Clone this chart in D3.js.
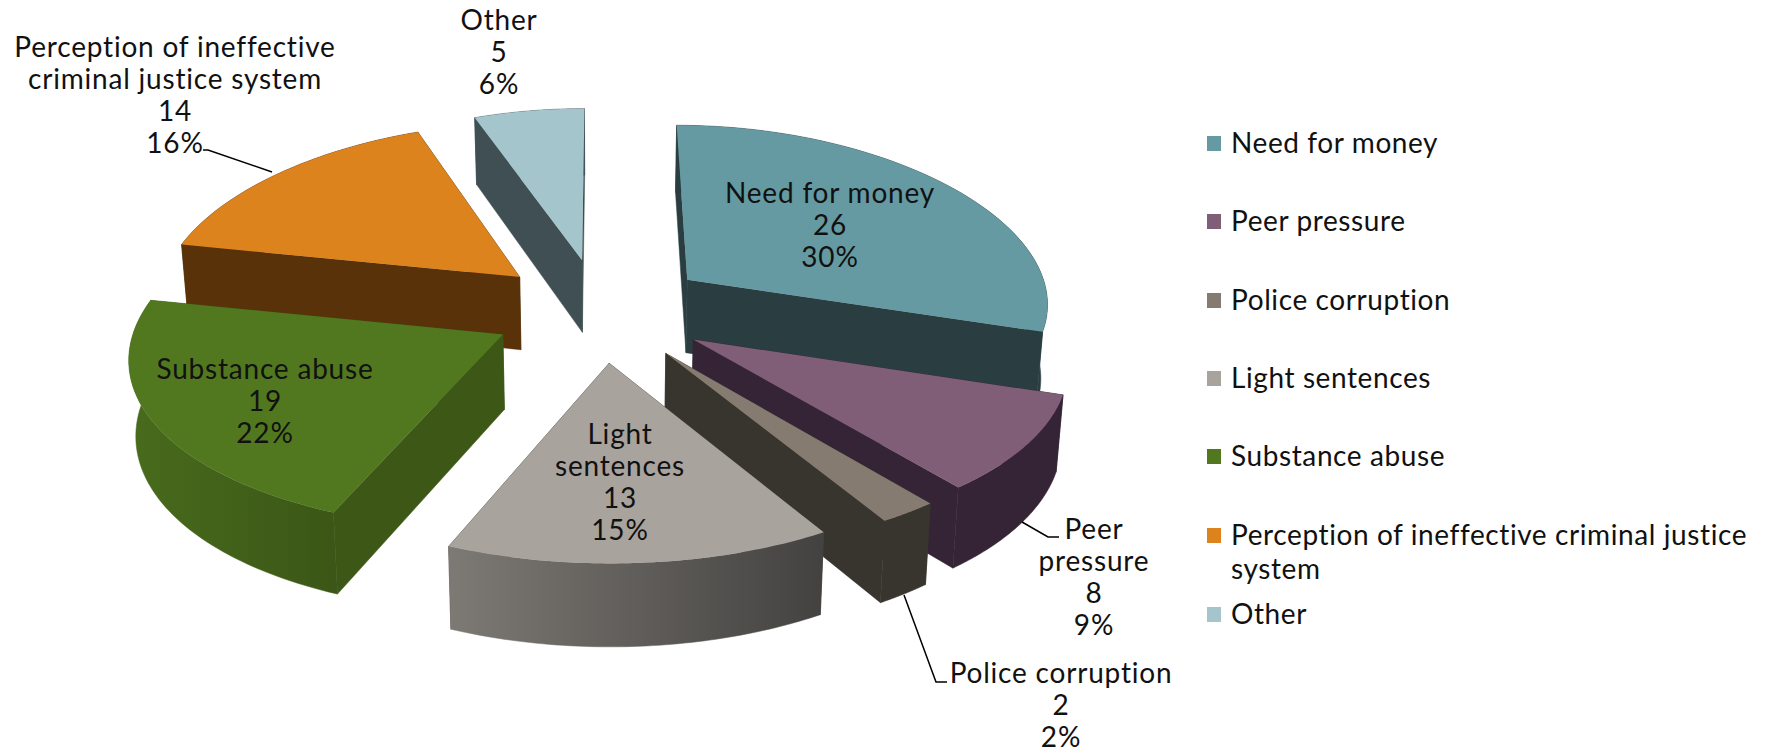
<!DOCTYPE html>
<html><head><meta charset="utf-8">
<script src="https://cdn.jsdelivr.net/npm/d3@7"></script>
<style>html,body{margin:0;padding:0;background:#fff}svg{display:block}text{font-family:Lato,"Open Sans",sans-serif;fill:#111;letter-spacing:0.8px}text.lg{letter-spacing:0.6px}</style>
</head><body><svg id="c" width="1766" height="754"></svg>
<script>
const categories=["Need for money","Peer pressure","Police corruption","Light sentences","Substance abuse","Perception of ineffective criminal justice system","Other"];
const values=[26,8,2,13,19,14,5];
const percents=["30%","9%","2%","15%","22%","16%","6%"];
const topColors=["#659aa2","#805e78","#857b70","#a9a39d","#52781f","#dc831e","#a3c5cb"];
const wallColors=["#2a3e42","#342435","#38342e","#45433f","#3c5716","#593209","#3f4f53"];
const outerFrom=["#2a3e42","#342435","#38342e","#7d7974","#486b1c","#593209","#3f4f53"];
const outerTo=["#2a3e42","#342435","#38342e","#434240","#3b5616","#593209","#3f4f53"];
const labelLines=[["Need for money"],["Peer","pressure"],["Police corruption"],["Light","sentences"],["Substance abuse"],["Perception of ineffective","criminal justice system"],["Other"]];
const labelX=[830,1094,1061,620,265,175,499];
const labelY=[193,529,673,434,369,47,20];
const legendLines=[["Need for money"],["Peer pressure"],["Police corruption"],["Light sentences"],["Substance abuse"],["Perception of ineffective criminal justice","system"],["Other"]];
const legendY=[143,221,300,378,456,535,614];
const leaders=[[[1022,522],[1048,537],[1059,537]],[[904,595],[936,682],[947,682]],[[272,172],[208,150],[203,150]]];

const CX=601,CY=310,RX=364,RY=173,KX=0.12,KY=0.087,H=74,EXPLODE=0.30,TAPER=0.015,FS=28,LH=32;
const svg=d3.select("#c");
const defs=svg.append("defs");
const project=(X,Y,Z)=>{const sx=1+KX*Y,sy=1/(1-KY*Y),t=1-TAPER*Z;return [CX+RX*X*sx*t,CY+RY*Y*sy+H*Z*sy];};
const line=d3.line();
const arcs=d3.pie().sort(null)(values);
const slices=arcs.map((a,i)=>{
  const mid=(a.startAngle+a.endAngle)/2,ox=EXPLODE*Math.sin(mid),oy=-EXPLODE*Math.cos(mid);
  const angles=d3.range(0,61).map(j=>a.startAngle+(a.endAngle-a.startAngle)*j/60);
  const rim=z=>angles.map(t=>project(ox+Math.sin(t),oy-Math.cos(t),z));
  const apex=z=>project(ox,oy,z);
  return {i,apex,rim,ay:apex(0)[1]};
}).sort((p,q)=>p.ay-q.ay);
const pie=svg.append("g");
slices.forEach(s=>{
  const g=pie.append("g");
  const r0=s.rim(0),r1=s.rim(1),a0=s.apex(0),a1=s.apex(1);
  const gid="o"+s.i;
  const xs=r0.concat(r1).map(p=>p[0]);
  const gr=defs.append("linearGradient").attr("id",gid).attr("gradientUnits","userSpaceOnUse")
    .attr("x1",d3.min(xs)).attr("x2",d3.max(xs)).attr("y1",0).attr("y2",0);
  gr.append("stop").attr("offset",0).attr("stop-color",outerFrom[s.i]);
  gr.append("stop").attr("offset",1).attr("stop-color",outerTo[s.i]);
  const walls=[
    {pts:[a0,r0[0],r1[0],a1],fill:wallColors[s.i]},
    {pts:[a0,r0[60],r1[60],a1],fill:wallColors[s.i]},
    {pts:r0.concat(r1.slice().reverse()),fill:`url(#${gid})`}
  ];
  walls.forEach(w=>w.my=d3.mean(w.pts,p=>p[1]));
  walls.sort((a,b)=>a.my-b.my).forEach(w=>g.append("path").attr("d",line(w.pts)+"Z").attr("fill",w.fill).attr("stroke",w.fill).attr("stroke-width",0.5));
  g.append("path").attr("d",line([a0].concat(r0))+"Z").attr("fill",topColors[s.i]);
});
const lg=svg.append("g");
leaders.forEach(l=>lg.append("path").attr("d",line(l)).attr("fill","none").attr("stroke","#000").attr("stroke-width",1.5));
categories.forEach((c,i)=>{
  const lines=labelLines[i].concat([String(values[i]),percents[i]]);
  lines.forEach((t,j)=>svg.append("text").attr("x",labelX[i]).attr("y",labelY[i]+j*LH).attr("dy","0.35em").attr("text-anchor","middle").attr("font-size",FS).text(t));
  svg.append("rect").attr("x",1207).attr("y",legendY[i]-7).attr("width",14).attr("height",15).attr("fill",topColors[i]);
  legendLines[i].forEach((t,j)=>svg.append("text").attr("class","lg").attr("x",1231).attr("y",legendY[i]+j*34).attr("dy","0.35em").attr("font-size",FS).text(t));
});
</script></body></html>
